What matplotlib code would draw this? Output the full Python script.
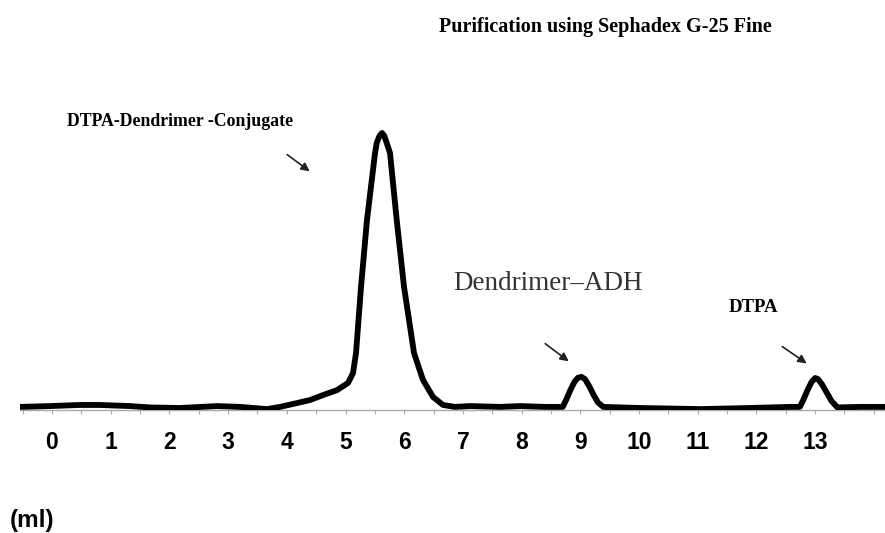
import matplotlib
matplotlib.use("Agg")
import matplotlib.pyplot as plt
from matplotlib.ticker import MultipleLocator

# Elution volume (ml) and relative absorbance
volume_ml = [-0.545, -0.034, 0.477, 0.818, 1.329, 1.670, 2.181, 2.811, 3.203, 3.663,
             3.884, 4.174, 4.395, 4.617, 4.855, 5.043, 5.128, 5.179, 5.264, 5.366,
             5.503, 5.532, 5.580, 5.622, 5.660, 5.702, 5.758, 5.872, 5.997, 6.167,
             6.320, 6.491, 6.661, 6.865, 7.121, 7.632, 7.973, 8.399,
             8.700, 8.760, 8.830, 8.900, 8.960, 9.020, 9.080, 9.150, 9.220, 9.300, 9.390,
             10.02, 11.04, 11.89, 12.57,
             12.74, 12.80, 12.87, 12.94, 13.00, 13.05, 13.12, 13.20, 13.28, 13.38,
             13.76, 14.19]
absorbance = [0.004, 0.007, 0.011, 0.011, 0.007, 0.002, 0.000, 0.007, 0.004, -0.004,
              0.004, 0.018, 0.029, 0.047, 0.065, 0.091, 0.127, 0.200, 0.440, 0.684,
              0.927, 0.964, 0.990, 1.000, 0.990, 0.964, 0.927, 0.684, 0.440, 0.200,
              0.102, 0.040, 0.011, 0.004, 0.007, 0.004, 0.007, 0.004,
              0.004, 0.030, 0.065, 0.095, 0.110, 0.113, 0.105, 0.080, 0.050, 0.020, 0.004,
              0.000, -0.004, 0.000, 0.004,
              0.004, 0.030, 0.065, 0.095, 0.109, 0.105, 0.085, 0.055, 0.025, 0.002,
              0.004, 0.004]
tick_values = list(range(0, 14))
tick_labels = [str(v) for v in tick_values]

W, H = 885, 533
fig = plt.figure(figsize=(W / 100, H / 100), dpi=100)
# axes: left at px 20, bottom spine at px 410 from top
ax = fig.add_axes([20 / W, 1 - 410 / H, 1 - 20 / W, 410 / H])
ax.set_xlim(-0.545, 14.19)
ax.set_ylim(-0.00727, 1.4836)

ax.plot(volume_ml, absorbance, color="black", lw=4.2, solid_joinstyle="round",
        solid_capstyle="round", zorder=3)

for s in ["top", "right", "left"]:
    ax.spines[s].set_visible(False)
ax.spines["bottom"].set_color("#aaaaaa")
ax.spines["bottom"].set_linewidth(1.0)
ax.set_yticks([])
ax.set_xticks(tick_values)
ax.set_xticklabels(tick_labels)
ax.xaxis.set_minor_locator(MultipleLocator(0.5))
ax.tick_params(axis="x", which="both", direction="out", length=3, width=0.8,
               color="#aaaaaa")
ax.tick_params(axis="x", which="major", pad=12, labelsize=16.5)
for lbl in ax.get_xticklabels():
    lbl.set_fontfamily("Liberation Sans")
    lbl.set_fontweight("bold")

serif = "Liberation Serif"
fig.text(605 / W, 1 - 27 / H, "Purification using Sephadex G-25 Fine", ha="center",
         va="center", fontfamily=serif, fontweight="bold", fontsize=14.5)
fig.text(67 / W, 1 - 122 / H, "DTPA-Dendrimer -Conjugate", ha="left", va="center",
         fontfamily=serif, fontweight="bold", fontsize=12.8)
fig.text(453 / W, 1 - 283 / H, "Dendrimer\u2013ADH", ha="left", va="center",
         fontfamily=serif, fontsize=19.5, color="#333333")
fig.text(753 / W, 1 - 307 / H, "DTPA", ha="center", va="center",
         fontfamily=serif, fontweight="bold", fontsize=13.5)
fig.text(10 / W, 1 - 520 / H, "(ml)", ha="left", va="center",
         fontfamily="Liberation Sans", fontweight="bold", fontsize=17.5)

arrows = [((285, 153), (312, 173)), ((543, 342), (571, 363)), ((780, 345), (809, 365))]
for (x0, y0), (x1, y1) in arrows:
    fig.add_artist(matplotlib.patches.FancyArrowPatch(
        (x0 / W, 1 - y0 / H), (x1 / W, 1 - y1 / H), transform=fig.transFigure,
        arrowstyle="-|>,head_length=5,head_width=2.5", color="#222222", lw=1.2,
        mutation_scale=1))

fig.savefig("out.png", dpi=100)
